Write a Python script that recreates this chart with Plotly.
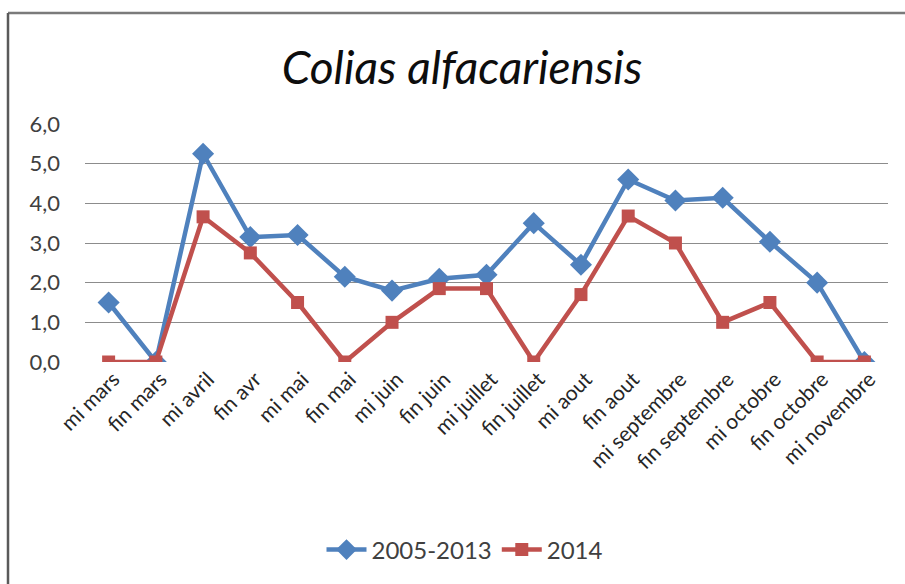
import plotly.graph_objects as go

categories = ["mi mars", "fin mars", "mi avril", "fin avr", "mi mai", "fin mai",
              "mi juin", "fin juin", "mi juillet", "fin juillet", "mi aout", "fin aout",
              "mi septembre", "fin septembre", "mi octobre", "fin octobre", "mi novembre"]
series_2005_2013 = [1.5, 0.0, 5.25, 3.15, 3.2, 2.15, 1.8, 2.1, 2.2, 3.5, 2.45, 4.6,
                    4.07, 4.14, 3.03, 2.0, 0.0]
series_2014 = [0.0, 0.0, 3.66, 2.75, 1.5, 0.0, 1.0, 1.85, 1.85, 0.0, 1.7, 3.68,
               3.0, 1.0, 1.5, 0.0, 0.0]
y_ticks = [0, 1, 2, 3, 4, 5, 6]
y_tick_labels = ["0,0", "1,0", "2,0", "3,0", "4,0", "5,0", "6,0"]

FONT = "Lato"
BLUE = "#4F81BD"
RED = "#C0504D"

fig = go.Figure()
fig.add_trace(go.Scatter(
    x=categories, y=series_2005_2013, name="2005-2013", mode="lines+markers",
    line=dict(color=BLUE, width=4.5),
    marker=dict(symbol="diamond", size=17, color=BLUE),
))
fig.add_trace(go.Scatter(
    x=categories, y=series_2014, name="2014", mode="lines+markers",
    line=dict(color=RED, width=4.5),
    marker=dict(symbol="square", size=13, color=RED),
))

W, H = 905, 584
L, R, T, B = 85, 17, 124, 222

def px_x(px):
    return (px - L) / (W - L - R)

def px_y(py):
    return (H - B - py) / (H - T - B)

fig.update_layout(
    width=W, height=H,
    margin=dict(l=L, r=R, t=T, b=B),
    paper_bgcolor="white", plot_bgcolor="white",
    font=dict(family=FONT, size=16, color="#404040"),
    title=dict(text="<i>Colias alfacariensis</i>", x=462 / W, xref="container",
               y=1 - 68 / H, yref="container", xanchor="center", yanchor="middle",
               font=dict(family=FONT, size=46, color="#0d0d0d")),
    xaxis=dict(type="category", range=[-0.5, len(categories) - 0.5],
               tickangle=-45, showgrid=False, showline=False, ticklabelshift=5,
               zeroline=False, ticks="", tickfont=dict(size=21, color="#262626")),
    yaxis=dict(range=[0, 6], tickvals=y_ticks, ticktext=y_tick_labels,
               showgrid=True, gridcolor="#8c8c8c", gridwidth=1, zeroline=False,
               showline=False, ticks="", ticklabelstandoff=24,
               tickfont=dict(size=22, color="#404040")),
    showlegend=True,
    legend=dict(orientation="h", x=465 / W, xref="container", xanchor="center",
                y=1 - 550 / H, yref="container", yanchor="middle",
                itemwidth=40,
                font=dict(size=24, color="#404040")),
    shapes=[
        dict(type="line", xref="paper", yref="paper", x0=px_x(8), x1=px_x(910),
             y0=px_y(13), y1=px_y(13), line=dict(color="#7a7a7a", width=2.5)),
        dict(type="line", xref="paper", yref="paper", x0=px_x(8), x1=px_x(8),
             y0=px_y(13), y1=px_y(590), line=dict(color="#5a5a5a", width=2.5)),
    ],
)

fig.write_html("out.html", config={"displayModeBar": False},
               post_script="document.body.style.margin='0';")
